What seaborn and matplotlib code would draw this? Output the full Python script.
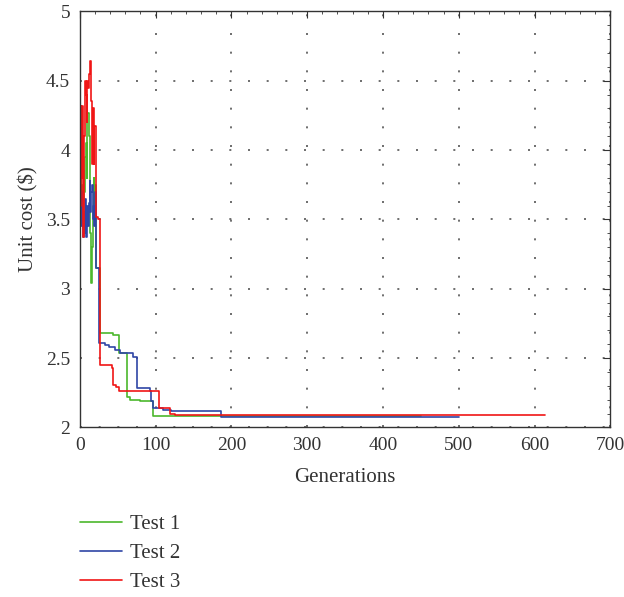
import numpy as np
import pandas as pd
import seaborn as sns
import matplotlib.pyplot as plt
from matplotlib.ticker import MultipleLocator

# Test 1 (vert)
gen1 = [0, 1, 2, 3, 4, 5, 6, 7, 8, 9, 10, 11, 12, 13, 14, 15, 16, 17, 18, 19, 20, 21,
        27, 44, 51, 62, 66, 80, 96, 130, 450]
cost1 = [3.90, 3.60, 3.55, 3.75, 3.65, 3.85, 3.70, 3.95, 4.05, 3.80, 4.27, 4.27, 4.10,
         3.75, 3.40, 3.04, 3.30, 3.60, 3.80, 3.50, 3.75, 3.15,
         2.68, 2.665, 2.535, 2.22, 2.20, 2.19, 2.085, 2.082, 2.082]

# Test 2 (bleu)
gen2 = [0, 1, 2, 3, 4, 5, 6, 7, 8, 9, 10, 11, 12, 13, 14, 15, 16, 17, 18, 19, 20, 21,
        25, 33, 38, 46, 53, 70, 76, 92, 94, 97, 103, 110, 120, 186, 500]
cost2 = [3.75, 3.60, 3.45, 3.70, 3.37, 3.55, 3.40, 3.65, 3.37, 3.55, 3.60, 3.45, 3.62,
         3.78, 3.55, 3.70, 3.75, 3.50, 3.60, 3.45, 3.70, 3.15,
         2.607, 2.595, 2.58, 2.56, 2.535, 2.51, 2.283, 2.26, 2.19, 2.14, 2.138, 2.125,
         2.116, 2.072, 2.072]

# Test 3 (rouge)
gen3 = [0, 1, 2, 3, 4, 5, 6, 7, 8, 9, 10, 11, 12, 13, 14, 15, 16, 17, 18, 19, 20, 21,
        24, 26, 42, 44, 48, 52, 105, 119, 125, 240, 614]
cost3 = [3.60, 4.32, 3.80, 4.32, 3.37, 3.60, 4.10, 4.50, 4.40, 4.20, 4.50, 4.45, 4.55,
         4.64, 4.64, 4.35, 3.90, 4.30, 3.90, 4.17, 4.17, 3.52, 3.50,
         2.45, 2.43, 2.306, 2.29, 2.265, 2.14, 2.10, 2.092, 2.087, 2.087]

labels = ['Test 1', 'Test 2', 'Test 3']
colors = ['#4cb82c', '#2f45a6', '#f01515']

frames = []
for lab, g, c in zip(labels, [gen1, gen2, gen3], [cost1, cost2, cost3]):
    frames.append(pd.DataFrame({'Generations': g, 'cost': c, 'test': lab}))
df = pd.concat(frames, ignore_index=True)

sns.set_style('white')
plt.rcParams['font.family'] = ['Liberation Serif', 'DejaVu Serif']

fig = plt.figure(figsize=(6.24, 5.97), dpi=100)
ax = fig.add_axes([0.128, 0.284, 0.850, 0.697])

sns.lineplot(data=df, x='Generations', y='cost', hue='test', palette=colors,
             drawstyle='steps-post', linewidth=1.2, ax=ax, estimator=None, sort=False)

ax.set_xlim(0, 700)
ax.set_ylim(2, 5)
ax.xaxis.set_major_locator(MultipleLocator(100))
ax.xaxis.set_minor_locator(MultipleLocator(20))
ax.yaxis.set_minor_locator(MultipleLocator(0.1))
ax.set_yticks([2, 2.5, 3, 3.5, 4, 4.5, 5])
ax.set_yticklabels(['2', '2.5', '3', '3.5', '4', '4.5', '5'])
ax.tick_params(which='both', direction='in', top=True, right=True, labelsize=14,
               colors='#333333')
ax.tick_params(which='major', length=5, pad=7)
ax.tick_params(which='minor', length=2.5)
ax.grid(True, which='major', color='#555555', linestyle=(0, (1.2, 10)), linewidth=1.2)
for s in ax.spines.values():
    s.set_color('#333333')
    s.set_linewidth(1.0)

ax.set_xlabel('Generations', fontsize=15, color='#333333', labelpad=10)
ax.set_ylabel('Unit cost ($)', fontsize=15, color='#333333', labelpad=5)

ax.legend(loc='upper left', bbox_to_anchor=(-0.035, -0.165), frameon=False,
          fontsize=15, handlelength=2.0, handletextpad=0.4, labelspacing=0.45,
          labelcolor='#333333')

plt.savefig('out.png', dpi=100)
